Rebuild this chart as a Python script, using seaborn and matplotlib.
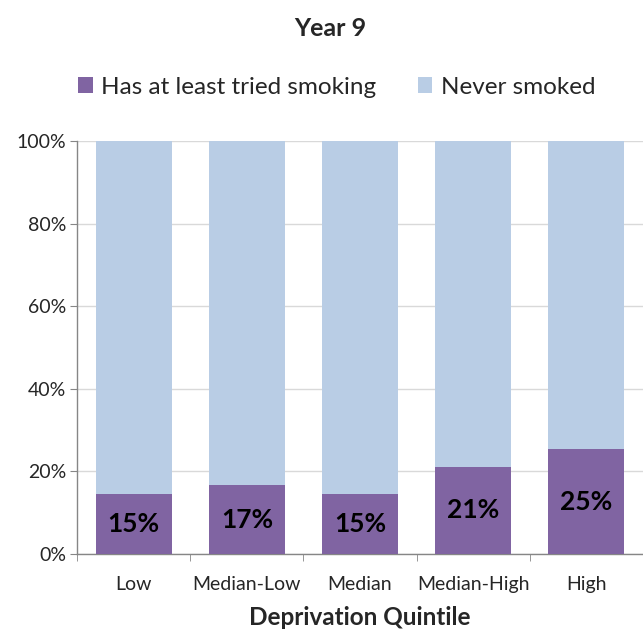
import matplotlib
matplotlib.use("Agg")
import matplotlib.pyplot as plt
import seaborn as sns
import pandas as pd
from matplotlib.patches import Patch
from matplotlib.ticker import FixedLocator

categories = ["Low", "Median-Low", "Median", "Median-High", "High"]
tried = [14.6, 16.7, 14.6, 21.1, 25.4]
labels = ["15%", "17%", "15%", "21%", "25%"]
total = [100, 100, 100, 100, 100]
yticks = [0, 20, 40, 60, 80, 100]

purple = "#8064A2"
blue = "#B9CDE5"

sns.set_style("white")
plt.rcParams["font.family"] = ["Lato", "DejaVu Sans"]

fig = plt.figure(figsize=(6.43, 6.31), dpi=100)
ax = fig.add_axes([0.1198, 0.122, 0.8802, 0.6545])

df = pd.DataFrame({"cat": categories, "tried": tried, "total": total})
sns.barplot(data=df, x="cat", y="total", color=blue, width=0.67, saturation=1, ax=ax,
            zorder=2, linewidth=0, edgecolor="none")
sns.barplot(data=df, x="cat", y="tried", color=purple, width=0.67, saturation=1, ax=ax,
            zorder=3, linewidth=0, edgecolor="none")

for i, (v, lab) in enumerate(zip(tried, labels)):
    ax.text(i, v / 2, lab, ha="center", va="center", fontsize=19, fontweight="bold", color="black", zorder=4)

ax.set_xlim(-0.5, 4.5)
ax.set_ylim(0, 100)
ax.set_yticks(yticks)
ax.set_yticklabels([f"{t}%" for t in yticks], fontsize=14)
ax.yaxis.grid(True, color="#D9D9D9", linewidth=1, zorder=0)
ax.set_axisbelow(True)
ax.tick_params(axis="y", length=5, color="#868686", direction="out", left=True, pad=3)
ax.tick_params(axis="x", which="major", length=0, labelsize=14, pad=16)
ax.xaxis.set_minor_locator(FixedLocator([-0.5, 0.5, 1.5, 2.5, 3.5, 4.5]))
ax.tick_params(axis="x", which="minor", length=5, color="#868686", direction="out", bottom=True)

for s in ["top", "right"]:
    ax.spines[s].set_visible(False)
for s in ["left", "bottom"]:
    ax.spines[s].set_color("#868686")
    ax.spines[s].set_linewidth(1)

ax.set_xlabel("Deprivation Quintile", fontsize=17.5, fontweight="bold", labelpad=9)
ax.set_ylabel("")

fig.text(0.514, 0.9556, "Year 9", ha="center", va="center", fontsize=18, fontweight="bold")

handles = [Patch(facecolor=purple, edgecolor="none", label="Has at least tried smoking"),
           Patch(facecolor=blue, edgecolor="none", label="Never smoked")]
fig.legend(handles=handles, loc="center", bbox_to_anchor=(0.524, 0.862), ncol=2, frameon=False,
           fontsize=17.5, handlelength=0.6, handleheight=0.6, handletextpad=0.35, columnspacing=1.7)

fig.savefig("out.png", dpi=100)
